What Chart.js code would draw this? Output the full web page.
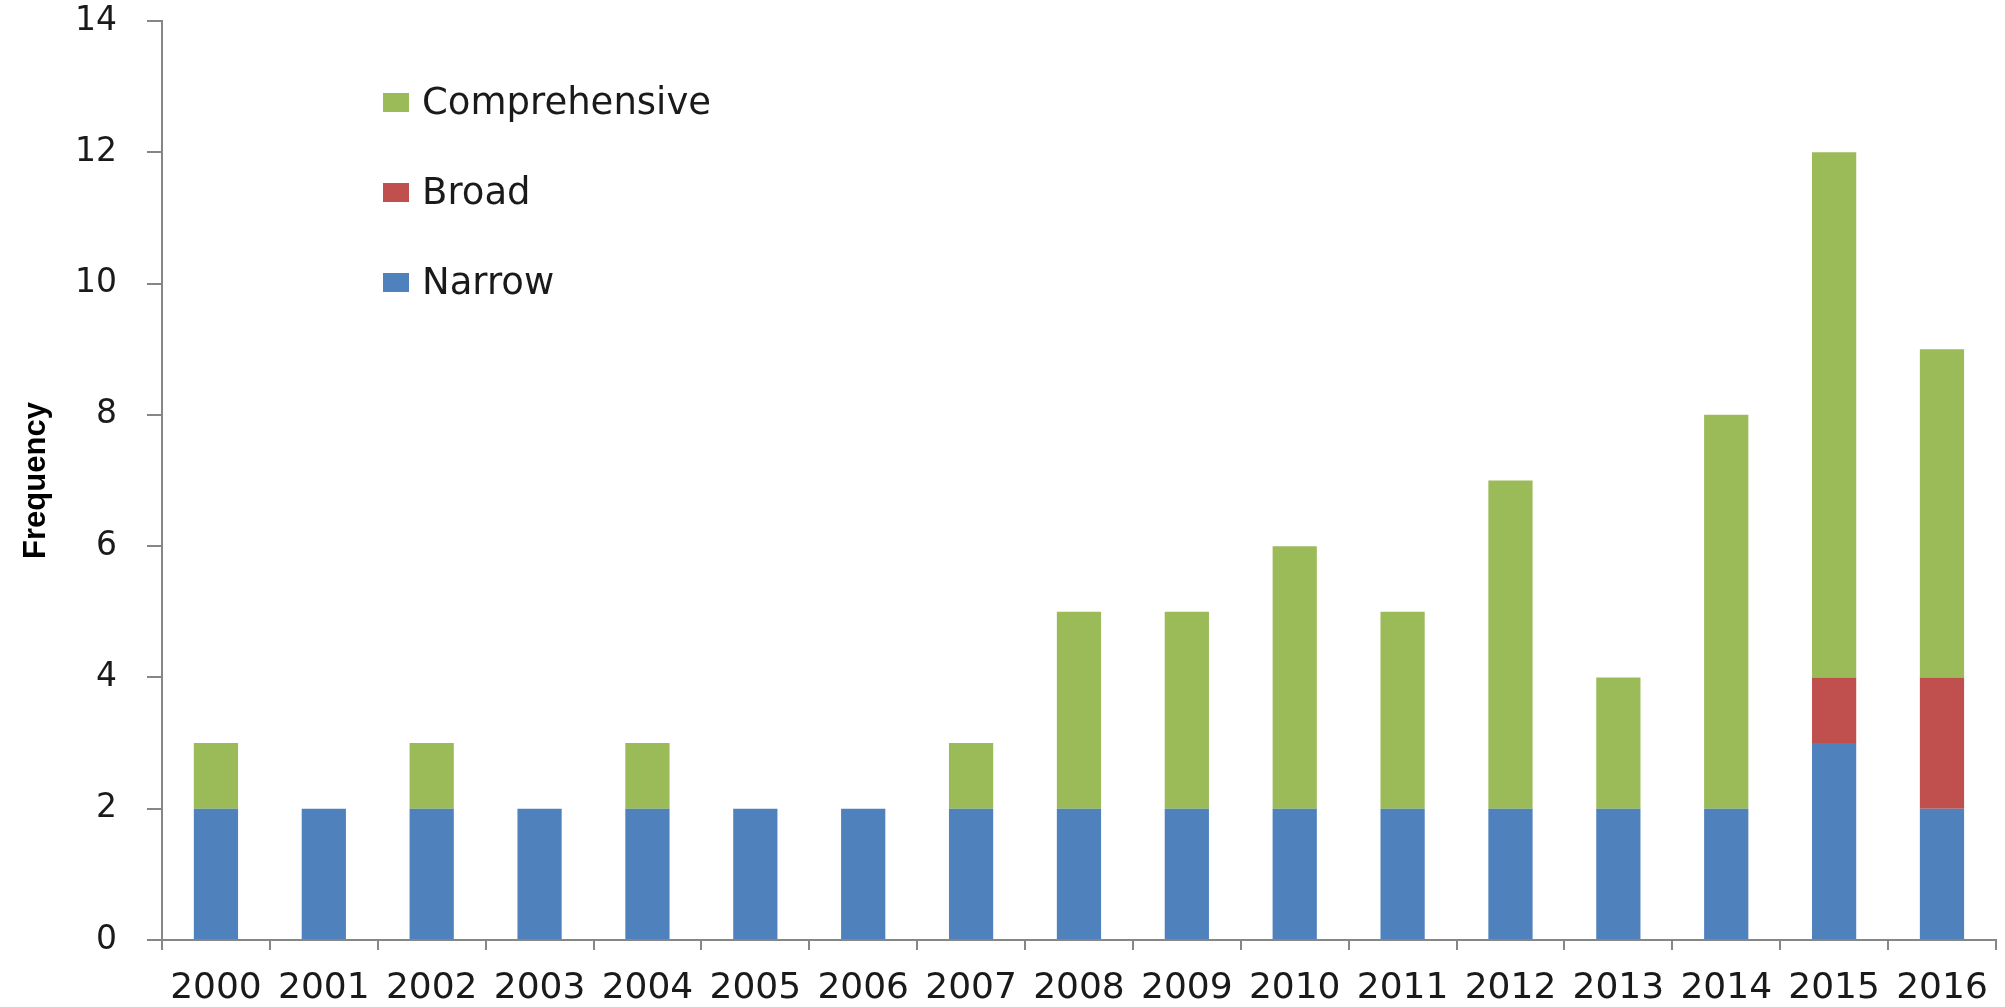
<!DOCTYPE html>
<html>
<head>
<meta charset="utf-8">
<script src="https://cdn.jsdelivr.net/npm/chart.js@4.4.1/dist/chart.umd.min.js"></script>
<style>
  html, body { margin: 0; padding: 0; background: #fff; }
  #wrap { width: 2005px; height: 1007px; }
</style>
</head>
<body>
<div id="wrap"><canvas id="bar-chart"></canvas></div>
<script>
var years = ["2000","2001","2002","2003","2004","2005","2006","2007","2008","2009","2010","2011","2012","2013","2014","2015","2016"];
var narrow        = [2,2,2,2,2,2,2,2,2,2,2,2,2,2,2,3,2];
var broad         = [0,0,0,0,0,0,0,0,0,0,0,0,0,0,0,1,2];
var comprehensive = [1,0,1,0,1,0,0,1,3,3,4,3,5,2,6,8,5];
var yTicks = [0,2,4,6,8,10,12,14];

var axisGrey = '#868686';

// legend drawn inside the plot, top-left, reversed order (like the original)
var innerLegend = {
  id: 'innerLegend',
  afterDatasetsDraw: function(chart) {
    var ctx = chart.ctx, area = chart.chartArea;
    var sets = chart.data.datasets.slice().reverse();
    ctx.save();
    ctx.font = '37px "DejaVu Sans"';
    ctx.textBaseline = 'middle';
    ctx.textAlign = 'left';
    for (var i = 0; i < sets.length; i++) {
      var cy = area.top + 82 + i * 90;
      ctx.fillStyle = sets[i].backgroundColor;
      ctx.fillRect(area.left + 221, cy - 10, 26, 19);
      ctx.fillStyle = '#1a1a1a';
      ctx.fillText(sets[i].label, area.left + 260, cy + 1);
    }
    ctx.restore();
  }
};

new Chart(document.getElementById("bar-chart"), {
  type: 'bar',
  data: {
    labels: years,
    datasets: [
      { label: "Narrow", data: narrow, backgroundColor: '#4F81BD' },
      { label: "Broad", data: broad, backgroundColor: '#C0504D' },
      { label: "Comprehensive", data: comprehensive, backgroundColor: '#9BBB59' }
    ]
  },
  options: {
    responsive: true,
    maintainAspectRatio: false,
    animation: false,
    layout: { padding: { top: 21, right: 7, left: 0, bottom: 0 } },
    datasets: { bar: { barPercentage: 0.41, categoryPercentage: 1 } },
    plugins: {
      legend: { display: false },
      tooltip: { enabled: false }
    },
    scales: {
      x: {
        stacked: true,
        afterFit: function(s) { s.height = 67; },
        grid: { drawOnChartArea: false, drawTicks: true, tickLength: 10, color: axisGrey, lineWidth: 2 },
        border: { display: true, color: axisGrey, width: 2 },
        ticks: { color: '#1a1a1a', font: { family: 'DejaVu Sans', size: 36 }, padding: 17, maxRotation: 0, autoSkip: false }
      },
      y: {
        stacked: true,
        min: 0,
        max: 14,
        afterFit: function(s) { s.width = 162; s.paddingTop = 0; s.paddingBottom = 0; },
        afterBuildTicks: function(s) { s.ticks = yTicks.map(function(v) { return { value: v }; }); },
        grid: { drawOnChartArea: false, drawTicks: true, tickLength: 15, color: axisGrey, lineWidth: 2 },
        border: { display: true, color: axisGrey, width: 2 },
        ticks: { color: '#1a1a1a', font: { family: 'DejaVu Sans', size: 33 }, padding: 30 },
        title: {
          display: true,
          text: 'Frequency',
          color: '#000',
          font: { family: 'Liberation Sans', size: 31, weight: 'bold' },
          padding: { top: 18, bottom: 0 }
        }
      }
    }
  },
  plugins: [innerLegend]
});
</script>
</body>
</html>
